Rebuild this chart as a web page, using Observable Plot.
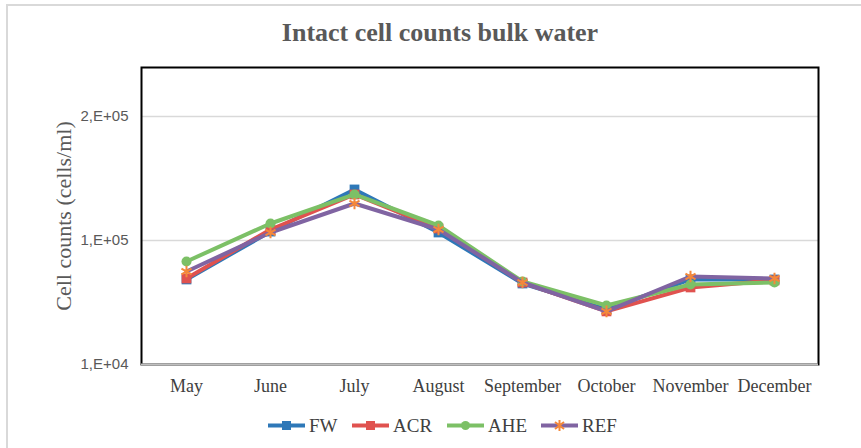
<!DOCTYPE html>
<html>
<head>
<meta charset="utf-8">
<script src="https://cdn.jsdelivr.net/npm/d3@7"></script>
<script src="https://cdn.jsdelivr.net/npm/@observablehq/plot@0.6"></script>
<style>
  body { margin: 0; background: #fff; }
  #wrap { position: relative; width: 861px; height: 448px; overflow: hidden; }
  #border { position: absolute; left: 6px; top: 4px; width: 900px; height: 500px; border: 2px solid #d9d9d9; box-sizing: border-box; }
  #title { position: absolute; left: 0; width: 880px; top: 18px; text-align: center; font-family: "Liberation Serif", serif; font-weight: bold; font-size: 26px; color: #595959; }
  #legend { position: absolute; left: 0; top: 414px; width: 861px; height: 24px; font-family: "Liberation Serif", serif; font-size: 19px; color: #404040; }
  .item { position: absolute; top: 0; display: flex; align-items: center; gap: 4px; }
  #chart { position: absolute; left: 0; top: 0; }
</style>
</head>
<body>
<div id="wrap">
  <div id="border"></div>
  <div id="chart"></div>
  <div id="title">Intact cell counts bulk water</div>
  <div id="legend"></div>
</div>
<script>
const months = ["May", "June", "July", "August", "September", "October", "November", "December"];
const seriesNames = ["FW", "ACR", "AHE", "REF"];
const FW  = [48500, 118000, 258000, 116000, 45000, 27800, 48500, 48500];
const ACR = [49400, 122700, 235000, 125000, 45850, 26800, 41800, 47600];
const AHE = [67700, 137100, 235000, 132100, 46700, 29900, 44200, 45850];
const REF = [56200, 116000, 198800, 122700, 45850, 26800, 51250, 49400];
const yTicks = [1e4, 1e5, 1e6];
const yTickLabels = ["1,E+04", "1,E+05", "2,E+05"];

const colors = {FW: "#2E78B8", ACR: "#E0524F", AHE: "#7CC066", REF: "#8064A2"};
const markerColors = {FW: "#2E78B8", ACR: "#E0524F", AHE: "#7CC066", REF: "#F5883A"};
const symbols = {FW: "square", ACR: "square", AHE: "circle", REF: "asterisk"};
const legendLeft = {FW: 268, ACR: 352, AHE: 447, REF: 541};

const valuesBy = {FW, ACR, AHE, REF};
const data = seriesNames.flatMap(s => months.map((m, i) => ({series: s, month: m, value: valuesBy[s][i]})));

const serif = "Liberation Serif, serif";
const marks = [
  Plot.gridY(yTicks.slice(1), {stroke: "#d9d9d9", strokeOpacity: 1, strokeWidth: 1.5}),
  Plot.frame({stroke: "#000", strokeWidth: 2}),
  Plot.ruleY([yTicks[0]], {stroke: "#bfbfbf", strokeWidth: 2}),
  Plot.axisY(yTicks, {tickSize: 0, tickPadding: 13, tickFormat: (d) => yTickLabels[yTicks.indexOf(d)], fontSize: 15, fill: "#595959", fontFamily: "Liberation Sans, sans-serif", label: null}),
  Plot.axisX({tickSize: 0, tickPadding: 15, fontSize: 18, fill: "#404040", fontFamily: serif, label: null}),
  Plot.text(["Cell counts (cells/ml)"], {frameAnchor: "left", textAnchor: "middle", rotate: -90, dx: -78, fontSize: 22, fill: "#595959", fontFamily: serif})
];
for (const s of seriesNames) {
  const d = data.filter(r => r.series === s);
  marks.push(Plot.line(d, {x: "month", y: "value", stroke: colors[s], strokeWidth: 4}));
  if (symbols[s] === "asterisk") {
    marks.push(Plot.dot(d, {x: "month", y: "value", symbol: "asterisk", r: 5.5, stroke: markerColors[s], strokeWidth: 2}));
  } else {
    marks.push(Plot.dot(d, {x: "month", y: "value", symbol: symbols[s], r: symbols[s] === "square" ? 5.5 : 5, fill: markerColors[s], stroke: "none"}));
  }
}

const chart = Plot.plot({
  width: 861, height: 448,
  marginLeft: 141, marginRight: 43, marginTop: 67, marginBottom: 84,
  x: {type: "point", domain: months, padding: 0.5},
  y: {type: "log", domain: [1e4, Math.pow(10, 6.395)]},
  style: {background: "transparent", overflow: "visible"},
  marks
});
document.getElementById("chart").appendChild(chart);

// legend
const legend = document.getElementById("legend");
for (const s of seriesNames) {
  const item = document.createElement("div");
  item.className = "item";
  item.style.left = legendLeft[s] + "px";
  let marker;
  if (symbols[s] === "square") marker = `<rect x="14" y="7" width="9" height="9" fill="${markerColors[s]}"/>`;
  else if (symbols[s] === "circle") marker = `<circle cx="18.5" cy="11.5" r="4.5" fill="${markerColors[s]}"/>`;
  else marker = `<g stroke="${markerColors[s]}" stroke-width="2"><line x1="18.5" y1="6" x2="18.5" y2="17"/><line x1="14" y1="8" x2="23" y2="15"/><line x1="14" y1="15" x2="23" y2="8"/></g>`;
  item.innerHTML = `<svg width="37" height="23"><line x1="0" y1="11.5" x2="37" y2="11.5" stroke="${colors[s]}" stroke-width="4"/>${marker}</svg><span>${s}</span>`;
  legend.appendChild(item);
}
</script>
</body>
</html>
